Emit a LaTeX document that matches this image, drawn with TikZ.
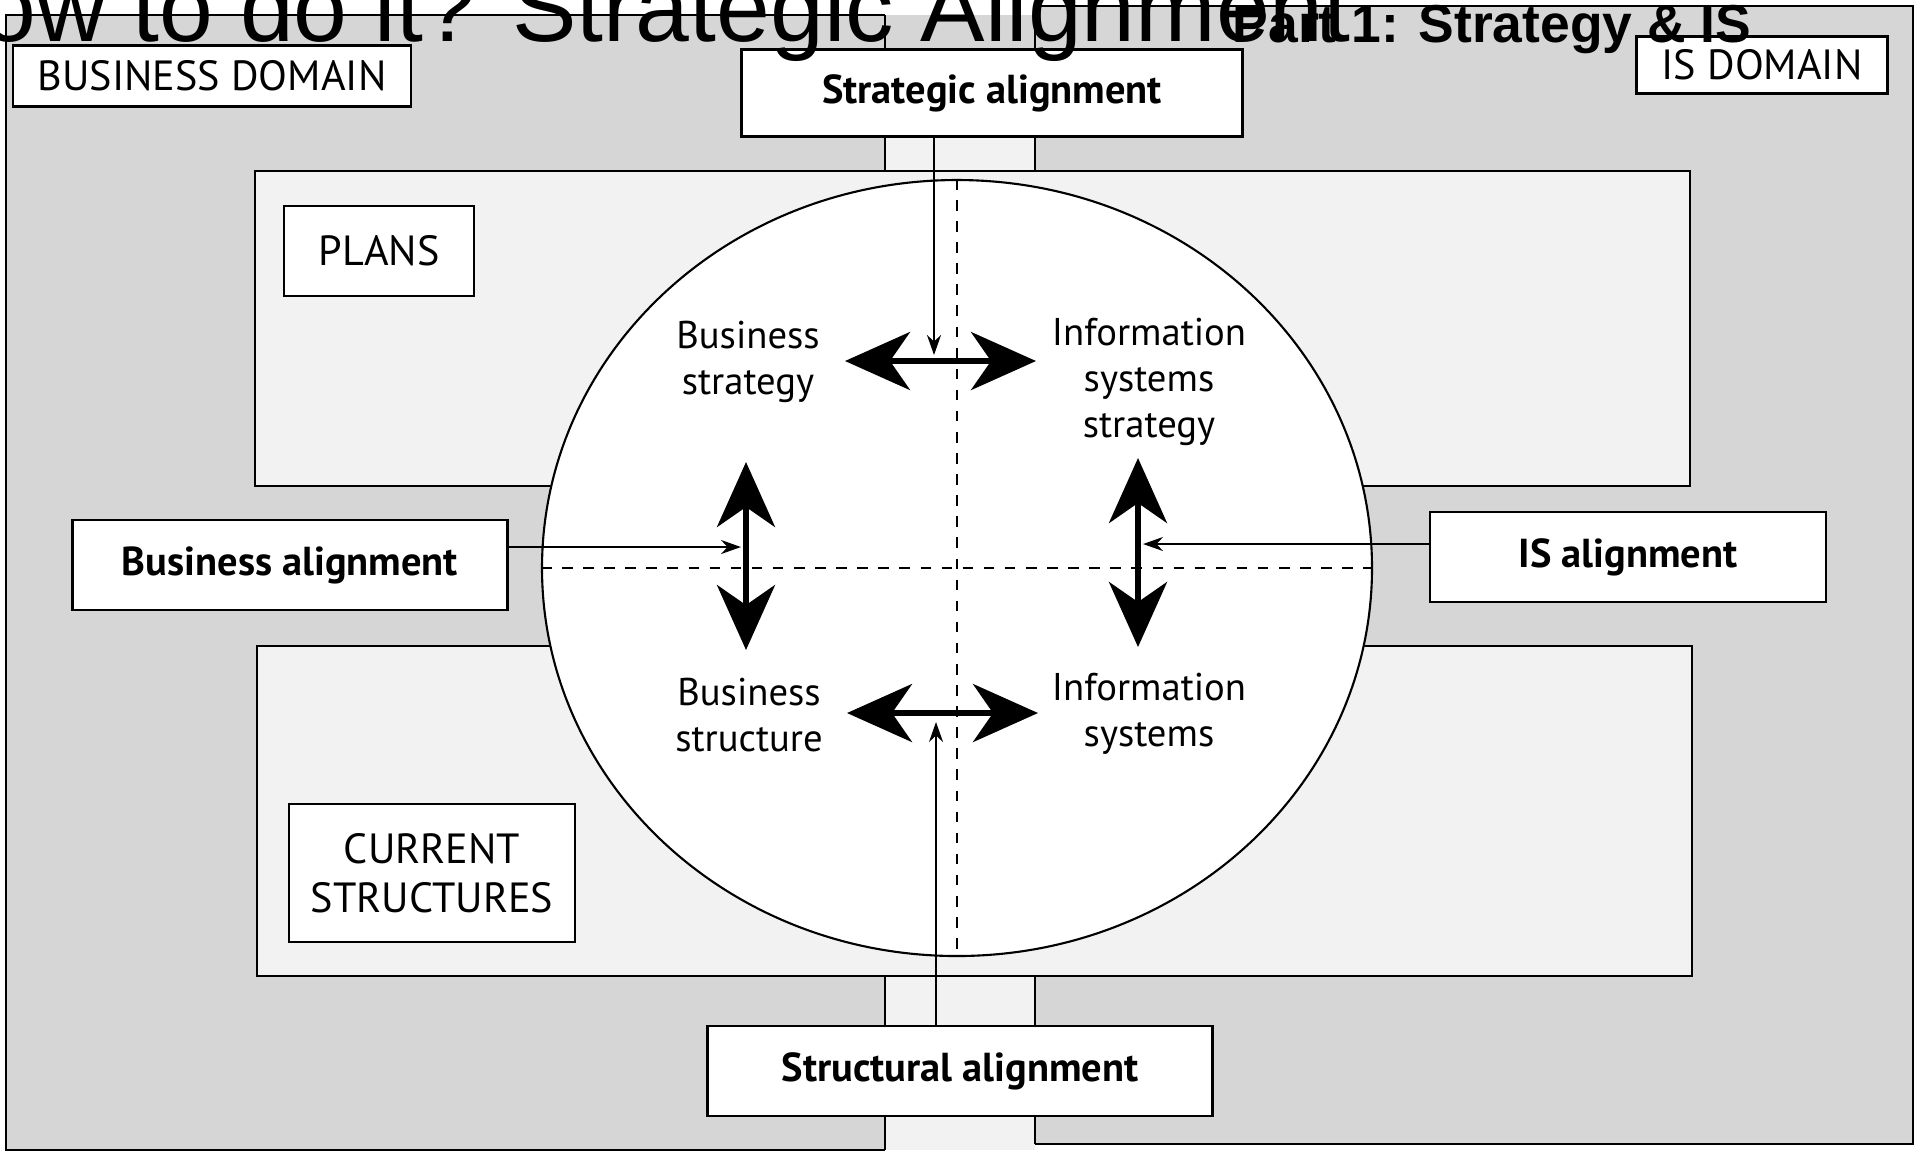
\documentclass[tikz,border=0pt]{standalone}
\usepackage{fontspec}
\setmainfont{PT Sans}
\newfontfamily\titlefont{Liberation Sans}
\usepackage{tikz}
\usetikzlibrary{arrows.meta,shapes.geometric}

\definecolor{stipple}{gray}{0.84}
\definecolor{paledots}{gray}{0.95}

\begin{document}
\begin{tikzpicture}[x=0.1mm,y=-0.1mm,
    frame/.style={draw=black,line width=0.5pt},
    tag/.style={draw=black,line width=0.7pt,fill=white,inner sep=0pt,font=\fontsize{12}{14}\selectfont},
    aligntag/.style={tag,font=\fontsize{11.5}{14}\selectfont\bfseries},
    quad/.style={align=center,inner sep=0pt,font=\fontsize{11}{13.1}\selectfont},
    twoway/.style={line width=1.6pt,{Stealth[length=6.5mm,width=5.8mm,inset=2mm]}-{Stealth[length=6.5mm,width=5.8mm,inset=2mm]}},
    feed/.style={line width=0.6pt,-{Stealth[length=2mm,width=1.4mm]}}]
  \useasboundingbox (0,0) rectangle (1919,1155);

  % the two domains
  \fill[stipple] (6,15) rectangle (1035,1150);
  \fill[stipple] (1035,6) rectangle (1913,1144);
  \fill[paledots] (885,137) rectangle (1035,171);
  \fill[paledots] (885,976) rectangle (1035,1150);
  \draw[frame] (885,15) -- (6,15) -- (6,1150) -- (885,1150);
  \draw[frame] (1035,6) -- (1913,6) -- (1913,1144) -- (1035,1144);
  \draw[frame] (885,15) -- (885,171);
  \draw[frame] (1035,6) -- (1035,171);
  \draw[frame] (885,976) -- (885,1150);
  \draw[frame] (1035,976) -- (1035,1144);

  % plans and current structures
  \draw[frame,fill=paledots] (255,171) rectangle (1690,486);
  \draw[frame,fill=paledots] (257,646) rectangle (1692,976);

  \node[ellipse,draw=black,line width=0.6pt,fill=white,inner sep=0pt,
        minimum width=83mm,minimum height=77.6mm] (C) at (957,568) {};
  \draw[dashed,line width=0.4pt] (C.north) -- (C.south);
  \draw[dashed,line width=0.4pt] (C.west) -- (C.east);

  \node[tag,minimum width=39.8mm,minimum height=6.1mm] (BD) at (212,76) {BUSINESS DOMAIN};
  \node[tag,minimum width=25.1mm,minimum height=5.7mm] (ISD) at (1762,65) {IS DOMAIN};
  \node[tag,minimum width=19mm,minimum height=9mm] (PL) at (379,251) {PLANS};
  \node[tag,align=center,minimum width=28.6mm,minimum height=13.8mm] (CS) at (432,873) {CURRENT\\STRUCTURES};

  \node[aligntag,minimum width=50.1mm,minimum height=8.7mm] (SA) at (992,93) {Strategic alignment};
  \node[aligntag,minimum width=43.5mm,minimum height=9mm] (BA) at (290,565) {Business alignment};
  \node[aligntag,minimum width=39.6mm,minimum height=9mm] (ISA) at (1628,557) {IS alignment};
  \node[aligntag,minimum width=50.5mm,minimum height=9mm] (STA) at (960,1071) {Structural alignment};

  \node[quad] (BSg) at (748,362) {Business\\strategy};
  \node[quad] (ISSg) at (1149,382) {Information\\systems\\strategy};
  \node[quad] (BSt) at (749,715) {Business\\structure};
  \node[quad] (ISy) at (1149,714) {Information\\systems};

  \coordinate (TL) at (845,361);
  \coordinate (TR) at (1036,361);
  \coordinate (BL) at (847,713);
  \coordinate (BR) at (1038,713);
  \coordinate (LU) at (746,462);
  \coordinate (LD) at (746,650);
  \coordinate (RU) at (1138,458);
  \coordinate (RD) at (1138,647);
  \draw[twoway] (TL) -- (TR);
  \draw[twoway] (BL) -- (BR);
  \draw[twoway] (LU) -- (LD);
  \draw[twoway] (RU) -- (RD);

  \coordinate (SAend) at (934,355);
  \coordinate (STend) at (936,722);
  \coordinate (BAend) at (741,547);
  \coordinate (ISAend) at (1143,544);
  \draw[feed] (SAend |- SA.south) -- (SAend);
  \draw[feed] (STend |- STA.north) -- (STend);
  \draw[feed] (BA.east |- BAend) -- (BAend);
  \draw[feed] (ISA.west |- ISAend) -- (ISAend);

  % slide titles
  \node[anchor=base west,inner sep=0pt,font=\titlefont\fontsize{27.5}{30}\selectfont] (T) at (-88,41) {How to do it? Strategic Alignment};
  \node[anchor=base west,inner sep=0pt,font=\titlefont\fontsize{15.2}{17}\selectfont\bfseries] (P) at (1232,42) {Part 1: Strategy \& IS};
\end{tikzpicture}
\end{document}
